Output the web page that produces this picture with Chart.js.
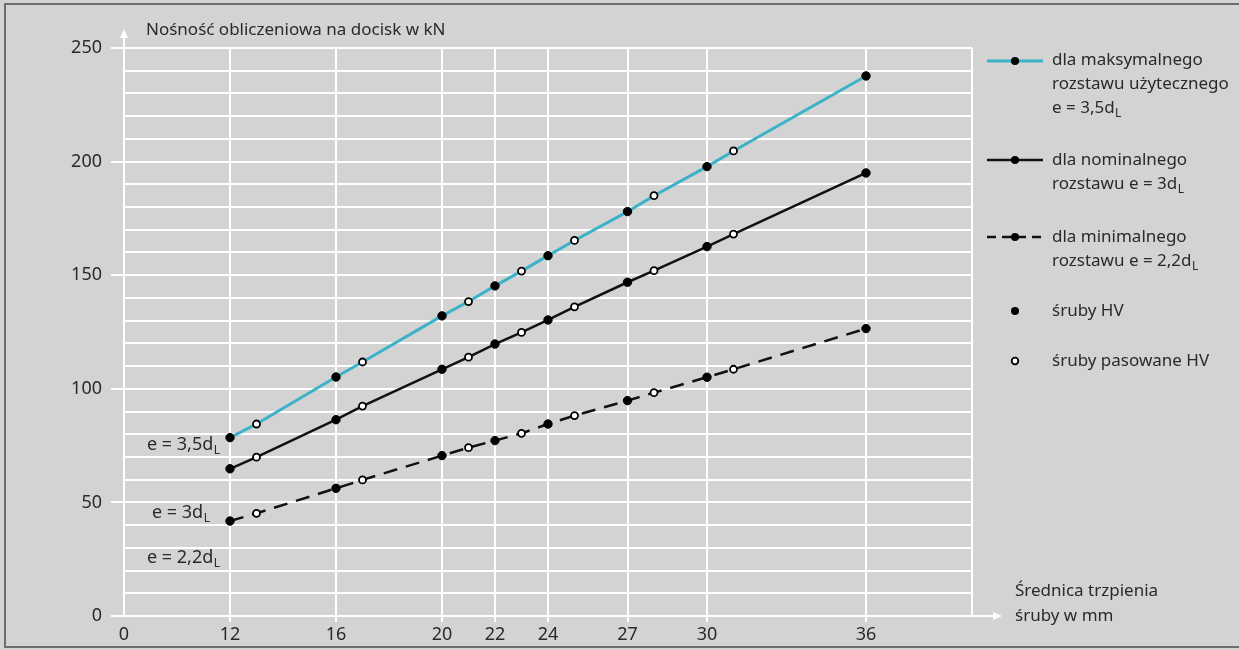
<!DOCTYPE html>
<html lang="pl">
<head>
<meta charset="UTF-8">
<title>Nośność obliczeniowa na docisk</title>
<script src="https://cdn.jsdelivr.net/npm/chart.js@4.4.1/dist/chart.umd.min.js"></script>
<style>
  html, body { margin: 0; padding: 0; background: #d3d3d3; }
  #wrap { width: 1239px; height: 650px; }
</style>
</head>
<body>
<div id="wrap"><canvas id="wykres" width="1239" height="650"></canvas></div>
<script>
// średnice trzpienia śrub w mm
const srednice = [12, 13, 16, 17, 20, 21, 22, 23, 24, 25, 27, 28, 30, 31, 36];
// 'HV' - śruby HV, 'P' - śruby pasowane HV
const rodzaj = ['HV', 'P', 'HV', 'P', 'HV', 'P', 'HV', 'P', 'HV', 'P', 'HV', 'P', 'HV', 'P', 'HV'];
// nośność na docisk w kN
const nosnoscMax = [78.5, 84.5, 105.2, 111.8, 132.1, 138.4, 145.3, 151.8, 158.6, 165.3, 178.0, 185.0, 197.8, 204.7, 237.7];
const nosnoscNom = [64.8, 69.9, 86.4, 92.4, 108.6, 113.9, 119.7, 124.8, 130.3, 136.1, 146.9, 152.0, 162.6, 168.1, 195.0];
const nosnoscMin = [41.8, 45.2, 56.2, 59.9, 70.6, 74.1, 77.2, 80.4, 84.5, 88.2, 94.8, 98.3, 105.1, 108.6, 126.5];
// podziałka osi x (oś przerwana: początek osi opisany jako 0)
const poczatekX = 8;
const koniecX = 40;
const podzialkaX = [8, 12, 16, 20, 22, 24, 27, 30, 36, 40];

const FONT = '"Noto Sans", "DejaVu Sans", sans-serif';
const TEKST = '#2a2a2a';
const CYJAN = '#3cb2c8';
const BIALY = '#ffffff';

function punkty(wartosci) {
    return srednice.map((d, i) => ({x: d, y: wartosci[i]}));
}

function tekstZIndeksem(ctx, x, y, glowny, indeks, rozmiar) {
    ctx.font = rozmiar + 'px ' + FONT;
    ctx.fillText(glowny, x, y);
    const w = ctx.measureText(glowny).width;
    ctx.font = Math.round(rozmiar * 0.68) + 'px ' + FONT;
    ctx.fillText(indeks, x + w + 0.5, y + 6);
}

const tlo = {
    id: 'tlo',
    beforeDraw(chart) {
        const ctx = chart.ctx;
        ctx.save();
        ctx.fillStyle = '#d3d3d3';
        ctx.fillRect(0, 0, chart.width, chart.height);
        ctx.strokeStyle = '#6e6e6e';
        ctx.lineWidth = 2;
        ctx.strokeRect(5, 4, chart.width + 10, chart.height - 7);
        ctx.restore();
    }
};

const opisy = {
    id: 'opisy',
    afterDraw(chart) {
        const ctx = chart.ctx;
        const a = chart.chartArea;
        ctx.save();

        // strzałki osi
        ctx.strokeStyle = BIALY;
        ctx.fillStyle = BIALY;
        ctx.lineWidth = 2;
        ctx.beginPath();
        ctx.moveTo(a.left, a.top);
        ctx.lineTo(a.left, a.top - 12);
        ctx.moveTo(a.right, a.bottom);
        ctx.lineTo(a.right + 22, a.bottom);
        ctx.stroke();
        ctx.beginPath();
        ctx.moveTo(a.left, a.top - 19);
        ctx.lineTo(a.left - 4, a.top - 10);
        ctx.lineTo(a.left + 4, a.top - 10);
        ctx.closePath();
        ctx.fill();
        ctx.beginPath();
        ctx.moveTo(a.right + 30, a.bottom);
        ctx.lineTo(a.right + 21, a.bottom - 4);
        ctx.lineTo(a.right + 21, a.bottom + 4);
        ctx.closePath();
        ctx.fill();

        ctx.fillStyle = TEKST;
        ctx.textBaseline = 'middle';
        ctx.textAlign = 'left';

        // tytuły osi
        ctx.font = '17px ' + FONT;
        ctx.fillText('Nośność obliczeniowa na docisk w kN', 146, 30);
        ctx.fillText('Średnica trzpienia', 1015, 591);
        ctx.fillText('śruby w mm', 1015, 616);

        // opisy przy liniach
        tekstZIndeksem(ctx, 147, 445, 'e = 3,5d', 'L', 18);
        tekstZIndeksem(ctx, 152, 513, 'e = 3d', 'L', 18);
        tekstZIndeksem(ctx, 147, 558, 'e = 2,2d', 'L', 18);

        // legenda
        const lx1 = 987, lx2 = 1043, lm = 1015, tx = 1052;
        function probka(y, kolor, kreska) {
            ctx.strokeStyle = kolor;
            ctx.lineWidth = kolor === CYJAN ? 3 : 2.5;
            ctx.setLineDash(kreska);
            ctx.beginPath();
            ctx.moveTo(lx1, y);
            ctx.lineTo(lx2, y);
            ctx.stroke();
            ctx.setLineDash([]);
            kropka(lm, y, true);
        }
        function kropka(x, y, pelna) {
            ctx.beginPath();
            ctx.arc(x, y, pelna ? 4 : 3.3, 0, Math.PI * 2);
            ctx.fillStyle = pelna ? '#000' : BIALY;
            ctx.fill();
            if (!pelna) {
                ctx.strokeStyle = '#000';
                ctx.lineWidth = 1.8;
                ctx.stroke();
            }
            ctx.fillStyle = TEKST;
        }
        probka(61, CYJAN, []);
        ctx.font = '17px ' + FONT;
        ctx.fillText('dla maksymalnego', tx, 60);
        ctx.fillText('rozstawu użytecznego', tx, 84);
        tekstZIndeksem(ctx, tx, 108, 'e = 3,5d', 'L', 17);

        probka(160, '#111', []);
        ctx.font = '17px ' + FONT;
        ctx.fillText('dla nominalnego', tx, 160);
        tekstZIndeksem(ctx, tx, 184, 'rozstawu e = 3d', 'L', 17);

        probka(237, '#111', [9, 6]);
        ctx.font = '17px ' + FONT;
        ctx.fillText('dla minimalnego', tx, 237);
        tekstZIndeksem(ctx, tx, 261, 'rozstawu e = 2,2d', 'L', 17);

        kropka(lm, 311, true);
        ctx.font = '17px ' + FONT;
        ctx.fillText('śruby HV', tx, 311);
        kropka(lm, 361, false);
        ctx.font = '17px ' + FONT;
        ctx.fillText('śruby pasowane HV', tx, 361);

        ctx.restore();
    }
};

function zestaw(wartosci, kolor, grubosc, kreska) {
    return {
        data: punkty(wartosci),
        borderColor: kolor,
        borderWidth: grubosc,
        borderDash: kreska,
        fill: false,
        tension: 0,
        pointRadius: c => rodzaj[c.dataIndex] === 'HV' ? 4.2 : 3.5,
        pointBackgroundColor: c => rodzaj[c.dataIndex] === 'HV' ? '#000' : BIALY,
        pointBorderColor: '#000',
        pointBorderWidth: c => rodzaj[c.dataIndex] === 'HV' ? 1 : 1.8
    };
}

new Chart(document.getElementById('wykres'), {
    type: 'line',
    data: {
        datasets: [
            zestaw(nosnoscMin, '#111', 2.5, [14, 9]),
            zestaw(nosnoscNom, '#111', 2.5, []),
            zestaw(nosnoscMax, CYJAN, 3, [])
        ]
    },
    options: {
        responsive: false,
        animation: false,
        events: [],
        layout: {padding: {left: 0, top: 48, right: 267, bottom: 0}},
        plugins: {legend: {display: false}, tooltip: {enabled: false}},
        scales: {
            x: {
                type: 'linear',
                min: poczatekX,
                max: koniecX,
                afterBuildTicks: s => { s.ticks = podzialkaX.map(v => ({value: v})); },
                afterFit: s => { s.height = 34; },
                ticks: {
                    autoSkip: false,
                    maxRotation: 0,
                    padding: 2,
                    color: TEKST,
                    font: {family: FONT, size: 18},
                    callback: v => v === poczatekX ? '0' : (v === koniecX ? '' : v)
                },
                grid: {
                    color: BIALY,
                    lineWidth: 2,
                    tickLength: 6,
                    tickColor: c => (c.tick && (c.tick.value === poczatekX || c.tick.value === koniecX)) ? 'rgba(0,0,0,0)' : BIALY
                },
                border: {display: true, color: BIALY, width: 2}
            },
            y: {
                min: 0,
                max: 250,
                afterFit: s => { s.width = 124; },
                ticks: {
                    stepSize: 10,
                    autoSkip: false,
                    padding: 9,
                    color: TEKST,
                    font: {family: FONT, size: 18},
                    callback: v => v % 50 === 0 ? v : ''
                },
                grid: {
                    color: BIALY,
                    lineWidth: 2,
                    tickLength: 13,
                    tickColor: c => (c.tick && c.tick.value % 50 === 0) ? BIALY : 'rgba(0,0,0,0)'
                },
                border: {display: true, color: BIALY, width: 2}
            }
        }
    },
    plugins: [tlo, opisy]
});
</script>
</body>
</html>
